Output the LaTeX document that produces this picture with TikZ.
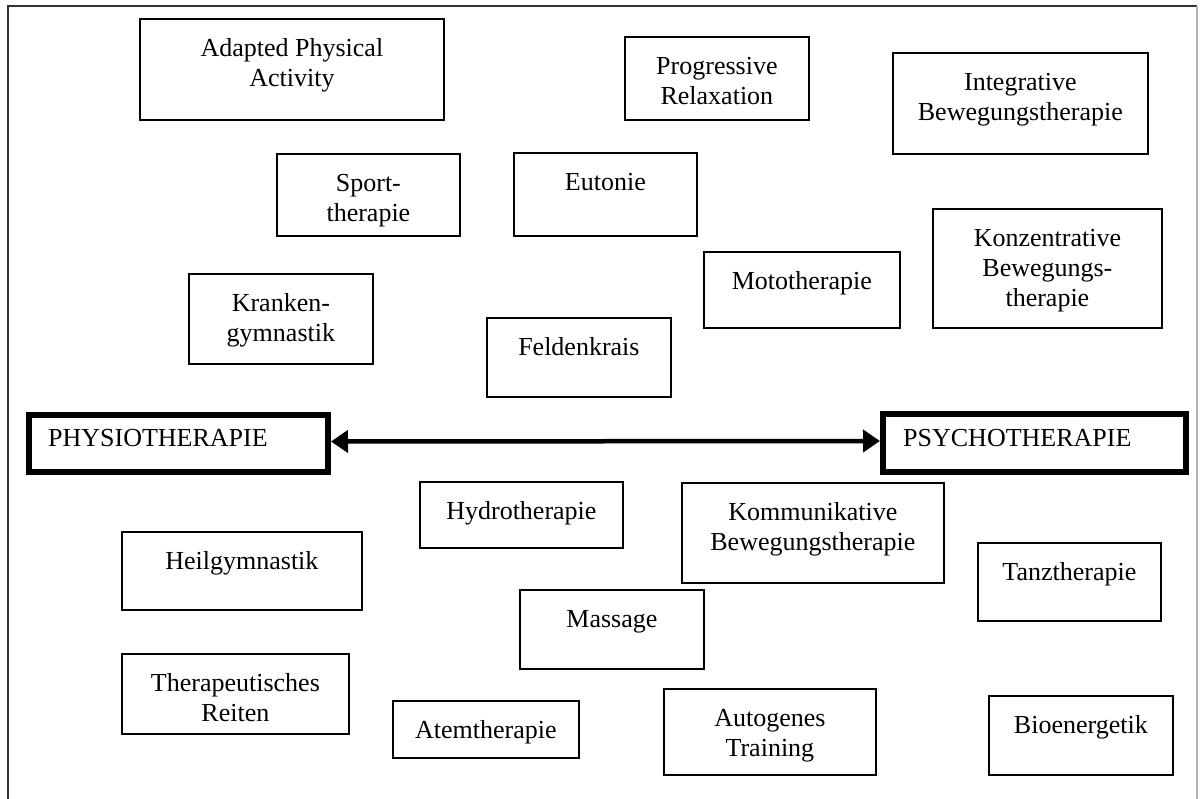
\documentclass[tikz,border=0pt]{standalone}
\usepackage{fontspec}
\setmainfont{Liberation Serif}
\usetikzlibrary{arrows.meta}
\tikzset{
  boxst/.style={draw, line width=1.8pt, inner sep=0pt},
  thickst/.style={draw, line width=6pt, inner sep=0pt},
  txt/.style={inner sep=0pt, align=center, anchor=north, font=\fontsize{26}{30}\selectfont},
  ltxt/.style={inner sep=0pt, anchor=base west, font=\fontsize{26}{30}\selectfont},
  link/.style={line width=4.5pt, {Triangle[length=17pt,width=22pt]}-{Triangle[length=17pt,width=22pt]}}
}
% name, x1, y1, x2, y2, text
\newcommand\ThBox[6]{%
  \node[boxst, minimum width={#4-#2}, minimum height={#5-#3}, anchor=north west] (#1) at (#2,-#3) {};
  \node[txt] (#1t) at ([yshift=-17pt]#1.north) {\strut #6};
}
\begin{document}
\begin{tikzpicture}[x=1pt,y=1pt]
\useasboundingbox (0,0) rectangle (1203,-799);
\fill[white] (0,0) rectangle (1203,-799);
% outer frame
\draw[line width=1.5pt, black!80] (8,-799) -- (8,-6) -- (1197,-6);
\draw[line width=1.2pt, black!30] (1197,-6) -- (1197,-799);

\ThBox{apa}{139}{18}{443}{119}{Adapted Physical\\Activity}
\ThBox{prog}{624}{36}{808}{119}{Progressive\\Relaxation}
\ThBox{integ}{892}{52}{1147}{153}{Integrative\\Bewegungstherapie}
\ThBox{sport}{276}{153}{459}{235}{Sport-\\therapie}
\ThBox{euto}{513}{152}{696}{235}{Eutonie}
\ThBox{konz}{932}{208}{1161}{327}{Konzentrative\\Bewegungs-\\therapie}
\ThBox{moto}{703}{251}{899}{327}{Mototherapie}
\ThBox{kran}{188}{273}{372}{363}{Kranken-\\gymnastik}
\ThBox{feld}{486}{317}{670}{396}{Feldenkrais}
\ThBox{hydro}{419}{481}{622}{547}{Hydrotherapie}
\ThBox{komm}{681}{482}{943}{582}{Kommunikative\\Bewegungstherapie}
\ThBox{heil}{121}{531}{361}{609}{Heilgymnastik}
\ThBox{tanz}{977}{542}{1160}{620}{Tanztherapie}
\ThBox{mass}{519}{589}{703}{668}{Massage}
\ThBox{reit}{121}{653}{348}{733}{Therapeutisches\\Reiten}
\ThBox{atem}{392}{700}{578}{757}{Atemtherapie}
\ThBox{auto}{663}{688}{875}{774}{Autogenes\\Training}
\ThBox{bio}{988}{695}{1172}{774}{Bioenergetik}

% main poles
\node[thickst, minimum width=299, minimum height=57, anchor=north west] (phys) at (26,-412) {};
\node[ltxt] (physt) at ([xshift=22pt,yshift=-35pt]phys.north west) {PHYSIOTHERAPIE};
\node[thickst, minimum width=303, minimum height=58, anchor=north west] (psych) at (880,-411) {};
\node[ltxt] (psycht) at ([xshift=23pt,yshift=-36pt]psych.north west) {PSYCHOTHERAPIE};

\draw[link] ([yshift=2pt]phys.east) -- ([yshift=2pt]psych.west);
\end{tikzpicture}
\end{document}
